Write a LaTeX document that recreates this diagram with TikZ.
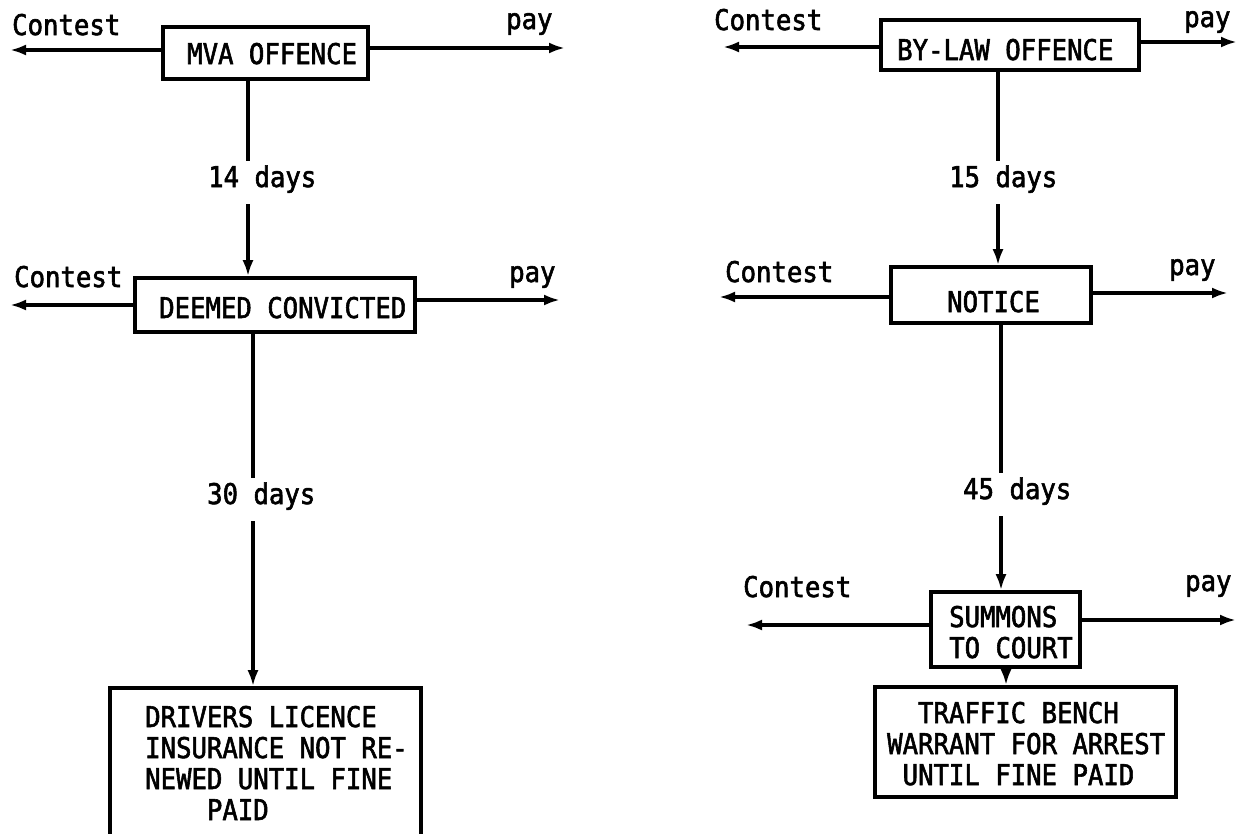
\documentclass[tikz,border=0pt]{standalone}
\usepackage{fontspec}
\newfontfamily\tw[FakeStretch=0.9,FakeBold=2]{DejaVu Sans Mono}
\usetikzlibrary{arrows.meta}
\begin{document}
\begin{tikzpicture}[x=1pt,y=-1pt,
  box/.style={draw,line width=3.6pt,inner sep=0pt,rectangle},
  txt/.style={font=\tw\fontsize{28.5}{31}\selectfont,inner sep=0pt,anchor=base west,align=left},
  days/.style={txt,text height=26pt,text depth=17pt},
  ln/.style={line width=3.8pt},
  arr/.style={line width=3.8pt,-{Latex[length=16pt,width=11pt]}}]
\useasboundingbox (0,0) rectangle (1239,833);
\fill[white] (0,0) rectangle (1239,833);
\clip (0,0) rectangle (1239,833);

% ---------- left column ----------
\node[box,minimum width=205pt,minimum height=52pt] (mva) at (265.5,53) {};
\node[txt] (tmva) at (187,64) {MVA OFFENCE};
\node[box,minimum width=280pt,minimum height=54pt] (deem) at (275,305) {};
\node[txt] (tdeem) at (159,318) {DEEMED CONVICTED};
\node[box,minimum width=311pt,minimum height=160pt] (drv) at (265.5,768) {};
% multi-line nodes: base anchor = baseline of the last line
\node[txt] (tdrv) at (145,820) {DRIVERS LICENCE\\INSURANCE NOT RE-\\NEWED UNTIL FINE\\\phantom{0000}PAID};

\node[txt] (c1) at (12,35) {Contest};
\node[txt] (p1) at (506,29) {pay};
\node[txt] (c2) at (14,287) {Contest};
\node[txt] (p2) at (509,282) {pay};
\node[days] (d14) at (208,187) {14 days};
\node[days] (d30) at (207,504) {30 days};

% ---------- right column ----------
\node[box,minimum width=258pt,minimum height=50pt] (bylaw) at (1010,45) {};
\node[txt] (tbylaw) at (897,60) {BY-LAW OFFENCE};
\node[box,minimum width=200pt,minimum height=56pt] (notice) at (991,295) {};
\node[txt] (tnotice) at (947,312) {NOTICE};
\node[box,minimum width=149pt,minimum height=75pt] (summ) at (1005.5,629.5) {};
\node[txt] (tsumm) at (949,658) {SUMMONS\\TO COURT};
\node[box,minimum width=301pt,minimum height=110pt] (traf) at (1025.5,742) {};
\node[txt] (ttraf) at (887,785) {\phantom{00}TRAFFIC BENCH\\WARRANT FOR ARREST\\\phantom{0}UNTIL FINE PAID};

\node[txt] (c3) at (714,30) {Contest};
\node[txt] (p3) at (1184,27) {pay};
\node[txt] (c4) at (725,282) {Contest};
\node[txt] (p4) at (1169,275) {pay};
\node[txt] (c5) at (743,597) {Contest};
\node[txt] (p5) at (1185,591) {pay};
\node[days] (d15) at (949,187) {15 days};
\node[days] (d45) at (963,499) {45 days};

% ---------- connector ends ----------
\coordinate (e1) at (10,50);   \coordinate (e2) at (565,48);
\coordinate (e3) at (10,305);  \coordinate (e4) at (560,300);
\coordinate (e5) at (723,47);  \coordinate (e6) at (1237,42);
\coordinate (e7) at (719,297); \coordinate (e8) at (1228,293);
\coordinate (e9) at (746,625); \coordinate (e10) at (1236,620);
\coordinate (v1) at (248,0);  \coordinate (v2) at (253,0);
\coordinate (v3) at (998,0);  \coordinate (v4) at (1001,0);
\coordinate (v5) at (1006,0);

% horizontal arrows
\draw[arr] (mva.west |- e1) -- (e1);
\draw[arr] (mva.east |- e2) -- (e2);
\draw[arr] (deem.west |- e3) -- (e3);
\draw[arr] (deem.east |- e4) -- (e4);
\draw[arr] (bylaw.west |- e5) -- (e5);
\draw[arr] (bylaw.east |- e6) -- (e6);
\draw[arr] (notice.west |- e7) -- (e7);
\draw[arr] (notice.east |- e8) -- (e8);
\draw[arr] (summ.west |- e9) -- (e9);
\draw[arr] (summ.east |- e10) -- (e10);

% vertical arrows
\draw[ln]  (mva.south -| v1) -- (v1 |- d14.north);
\draw[arr] (v1 |- d14.south) -- (v1 |- deem.north);
\draw[ln]  (deem.south -| v2) -- (v2 |- d30.north);
\draw[arr] (v2 |- d30.south) -- (v2 |- drv.north);
\draw[ln]  (bylaw.south -| v3) -- (v3 |- d15.north);
\draw[arr] (v3 |- d15.south) -- (v3 |- notice.north);
\draw[ln]  (notice.south -| v4) -- (v4 |- d45.north);
\draw[arr] (v4 |- d45.south) -- (v4 |- summ.north);
\draw[arr] (summ.south -| v5) -- (v5 |- traf.north);
\end{tikzpicture}
\end{document}
